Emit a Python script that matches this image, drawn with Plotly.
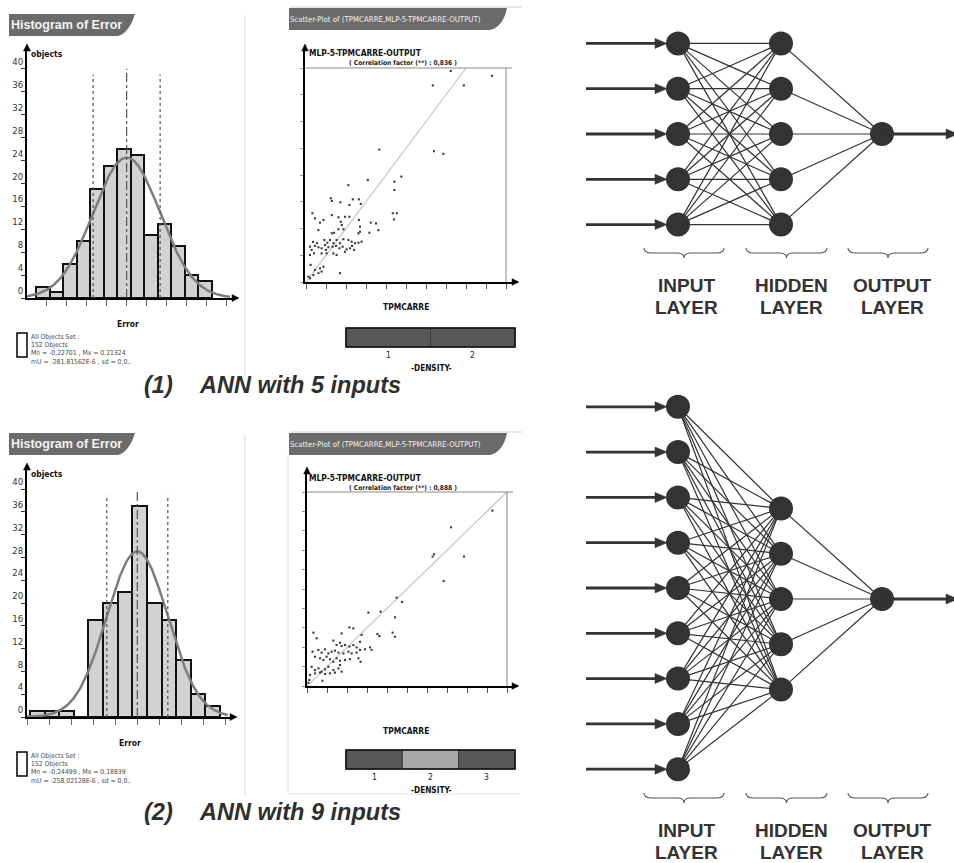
import numpy as np
import plotly.graph_objects as go

W, H = 954, 863

# ---------------- data ----------------
hist1_counts = [2, 1, 6, 10, 19, 23, 26, 25, 11, 13, 9, 4, 3]
hist1_min, hist1_max = -0.22701, 0.21324
hist1_mean, hist1_sd = -281.81562e-6, 0.0838
hist1_n = 152
hist1_mu_text = "-281,81562E-6"

hist2_counts = [1, 1, 1, 0, 17, 20, 22, 37, 20, 17, 10, 4, 2]
hist2_min, hist2_max = -0.24499, 0.18839
hist2_mean, hist2_sd = -258.02128e-6, 0.0696
hist2_n = 152
hist2_mu_text = "-258,02128E-6"

hist_yticks = [0, 4, 8, 12, 16, 20, 24, 28, 32, 36, 40]

scatter1_x = [7.24, 9.30, 6.34, 7.89, 3.67, 6.40, 6.87, 2.12, 3.09, 4.42, 4.77, 4.42, 2.34, 2.64, 1.24,
              1.29, 1.72, 2.17, 2.74, 0.32, 1.29, 4.34, 4.54, 4.40, 0.45, 0.70, 0.87, 1.62, 1.95, 2.17,
              1.74, 1.79, 1.87, 2.65, 2.70, 3.24, 3.50, 3.62, 3.17, 0.62, 1.29, 1.40, 1.62, 2.62, 2.70,
              0.92, 1.07, 1.20, 1.37, 1.53, 1.70, 1.87, 2.12, 2.28, 2.45, 2.62, 2.78,
              0.20, 0.28, 0.45, 0.62, 0.78, 0.95, 1.12, 1.33, 1.50, 1.67, 1.83, 2.03, 2.20, 2.40,
              0.20, 0.40, 0.78, 1.03, 1.37, 1.53, 1.95, 0.55, 0.35, 1.00, 2.30,
              0.23, 0.45, 0.70, 0.87, 0.78, 0.37, 0.62, 0.12, 0.20, 1.70]
scatter1_y = [7.89, 7.71, 7.35, 7.35, 4.95, 4.89, 4.79, 3.62, 3.81, 3.75, 3.94, 3.44, 3.09, 3.09, 3.13,
              3.03, 2.98, 2.88, 2.92, 2.57, 2.50, 2.57, 2.57, 2.34, 2.38, 2.22, 2.32, 2.42, 2.44, 2.44,
              2.25, 2.13, 1.97, 2.32, 2.07, 2.22, 2.19, 1.94, 1.84, 1.94, 1.82, 1.84, 1.97, 1.82, 1.88,
              1.57, 1.47, 1.57, 1.45, 1.57, 1.45, 1.60, 1.57, 1.51, 1.45, 1.47, 1.51,
              1.32, 1.20, 1.35, 1.30, 1.26, 1.38, 1.30, 1.32, 1.35, 1.26, 1.32, 1.22, 1.26, 1.20,
              1.01, 1.07, 1.07, 1.07, 1.07, 1.01, 1.13, 1.45, 1.50, 1.20, 1.35,
              0.64, 0.45, 0.51, 0.57, 0.39, 0.26, 0.33, 0.20, 0.14, 0.33]
scatter1_corr = "0,836"

scatter2_x = [9.27, 7.20, 6.35, 6.28, 7.85, 6.83, 4.48, 4.75, 3.07, 3.68, 4.40,
              2.12, 2.32, 1.73, 0.32, 0.48, 1.32, 2.73, 3.52, 3.62, 4.28, 4.40, 2.65,
              1.65, 1.48, 1.73, 1.90, 2.12, 2.32, 2.48, 3.15, 3.23, 2.90,
              0.28, 0.57, 0.73, 0.90, 1.07, 1.23, 1.40, 1.57, 1.82, 2.07, 2.23, 2.48, 2.65,
              2.57, 2.68,
              0.40, 0.65, 0.82, 0.98, 1.15, 1.32, 1.48, 1.65, 1.90, 2.15,
              0.23, 0.40, 0.57, 0.73, 0.90, 1.07, 1.32, 1.57, 1.65, 1.73,
              0.15, 0.40, 0.65, 0.90, 1.15, 1.40, 0.12, 0.77, 0.07]
scatter2_y = [9.04, 8.18, 6.79, 6.67, 6.67, 5.41, 4.55, 4.33, 3.78, 3.83, 3.54,
              3.02, 2.97, 2.71, 2.75, 2.46, 2.34, 2.63, 2.68, 2.58, 2.75, 2.54, 2.28,
              2.23, 2.11, 2.06, 2.11, 2.03, 2.11, 1.99, 1.99, 1.86, 1.89,
              1.77, 1.86, 1.72, 1.89, 1.68, 1.77, 1.82, 1.72, 1.68, 1.77, 1.68, 1.72, 1.86,
              1.43, 1.25,
              1.51, 1.43, 1.34, 1.51, 1.38, 1.25, 1.43, 1.30, 1.34, 1.38,
              0.99, 0.82, 0.91, 0.74, 0.86, 0.99, 0.82, 0.91, 1.08, 0.74,
              0.57, 0.65, 0.69, 0.62, 0.65, 0.69, 0.31, 0.27, 0.17]
scatter2_corr = "0,888"

density1_labels = ["1", "2"]
density1_shades = ["#585858", "#585858"]
density2_labels = ["1", "2", "3"]
density2_shades = ["#585858", "#a9a9a9", "#585858"]

net1_layers = [5, 5, 1]
net2_layers = [9, 5, 1]
layer_names = [("INPUT", "LAYER"), ("HIDDEN", "LAYER"), ("OUTPUT", "LAYER")]

captions = [("(1)", "ANN with 5 inputs"), ("(2)", "ANN with 9 inputs")]

# ---------------- helpers ----------------
NARROW = "Liberation Sans Narrow, Arial Narrow, DejaVu Sans Condensed, sans-serif"
ARIAL = "Liberation Sans, Arial, Helvetica, sans-serif"
DARK = "#333333"

def dx(a, b):
    return [a / W, b / W]

def dy(top, bottom):
    return [1 - bottom / H, 1 - top / H]

fig = go.Figure()
shapes = []
annotations = []

def txt(x, y, s, size, family=NARROW, color="#222", xanchor="left", yanchor="middle"):
    annotations.append(dict(x=x, y=y, xref="x", yref="y", text=s, showarrow=False,
                            xanchor=xanchor, yanchor=yanchor,
                            font=dict(size=size, family=family, color=color)))

def line(x0, y0, x1, y1, color, width, dash="solid", xref="x", yref="y", layer="above"):
    shapes.append(dict(type="line", x0=x0, y0=y0, x1=x1, y1=y1, xref=xref, yref=yref,
                       line=dict(color=color, width=width, dash=dash), layer=layer))

def path(d, fill, color, width=0):
    shapes.append(dict(type="path", path=d, xref="x", yref="y", fillcolor=fill,
                       line=dict(color=color, width=width), layer="above"))

def tri(tx, ty, direction, length=7, half=3.5, color="#000"):
    if direction == "up":
        d = f"M {tx},{ty} L {tx-half},{ty+length} L {tx+half},{ty+length} Z"
    else:
        d = f"M {tx},{ty} L {tx-length},{ty-half} L {tx-length},{ty+half} Z"
    path(d, color, color, 0.5)

# canvas axis (pixel coordinates)
fig.add_trace(go.Scatter(x=[0], y=[0], mode="markers", marker=dict(opacity=0),
                         hoverinfo="skip", xaxis="x", yaxis="y"))

# ---------------- histograms ----------------
def histogram(idx, counts, mn, mx, mean, sd, n, geom):
    left, bin0, binN, right, top, bottom, ppu_y = geom
    nb = len(counts)
    bw = (mx - mn) / nb
    edges = [mn + i * bw for i in range(nb + 1)]
    centers = [(edges[i] + edges[i + 1]) / 2 for i in range(nb)]
    scale = (binN - bin0) / (mx - mn)
    xr = [mn - (bin0 - left) / scale, mn + (right - bin0) / scale]
    yr = [0, (bottom - top) / ppu_y]
    xa, ya = f"x{idx}", f"y{idx}"
    fig.add_trace(go.Bar(x=centers, y=counts, width=bw, xaxis=xa, yaxis=ya,
                         marker=dict(color="#d2d2d2", line=dict(color="#111", width=2))))
    xs = np.linspace(xr[0], xr[1] - 0.01, 300)
    curve = n * bw / (sd * np.sqrt(2 * np.pi)) * np.exp(-0.5 * ((xs - mean) / sd) ** 2)
    fig.add_trace(go.Scatter(x=xs, y=curve, mode="lines", xaxis=xa, yaxis=ya,
                             line=dict(color="#7d7d7d", width=2.5), hoverinfo="skip"))
    for k, dash, top_v in [(-1, "dot", 39), (1, "dot", 39), (0, "dashdot", 40)]:
        line(mean + k * sd, 0, mean + k * sd, top_v, "#555", 1.2, dash, xref=xa, yref=ya)
    common = dict(showgrid=False, zeroline=False, showline=True, linecolor="#000", linewidth=2)
    fig.layout[f"xaxis{idx}"] = dict(domain=dx(left, right), range=xr, ticks="outside", ticklen=6,
                                     tickcolor="#666", tick0=0, dtick=0.05, showticklabels=False,
                                     anchor=ya, fixedrange=True, **common)
    fig.layout[f"yaxis{idx}"] = dict(domain=dy(top, bottom), range=yr, ticks="outside", ticklen=4,
                                     tickcolor="#333", tickvals=hist_yticks,
                                     ticktext=[str(v) for v in hist_yticks],
                                     ticklabelposition="outside top",
                                     tickfont=dict(size=9.5, family=NARROW, color="#333"),
                                     anchor=xa, fixedrange=True, **common)
    tri(left, top - 6, "up", 7, 3.5)
    tri(right + 5, bottom, "right", 7, 3.5)

def hist_decor(btop, objects_y, err_x, err_y, leg_top, mn, mx, n, mu_text):
    path(f"M 9,{btop} L 135,{btop} Q 129,{btop+19} 118,{btop+22} L 9,{btop+22} Z", "#6b6b6b", "#6b6b6b")
    txt(9, btop + 11, "<b>Histogram of Error</b>", 12.5, ARIAL, "#f2f2f2")
    txt(29, objects_y, "<b>objects</b>", 8.5, NARROW, "#111")
    txt(err_x, err_y, "<b>Error</b>", 8.5, NARROW, "#111", xanchor="center")
    shapes.append(dict(type="rect", x0=17, x1=27, y0=leg_top, y1=leg_top + 24, xref="x", yref="y",
                       line=dict(color="#000", width=1.5), fillcolor="white", layer="above"))
    lines_ = ["All Objects Set :", f"{n} Objects",
              f"Mn = {mn:.5f}".replace(".", ",") + " , " + f"Mx = {mx:.5f}".replace(".", ","),
              f"mU = {mu_text} , sd = 0,0.."]
    for i, s in enumerate(lines_):
        txt(29, leg_top + 4 + i * 8.2, s, 6.8, NARROW, "#4a4a4a")

histogram(2, hist1_counts, hist1_min, hist1_max, hist1_mean, hist1_sd, hist1_n,
          (27, 36, 212, 234, 50, 298, 5.73))
hist_decor(14, 54, 128, 324, 333, hist1_min, hist1_max, hist1_n, hist1_mu_text)
histogram(4, hist2_counts, hist2_min, hist2_max, hist2_mean, hist2_sd, hist2_n,
          (27, 30, 220, 232, 469, 717, 5.70))
hist_decor(433, 474, 130, 743, 752, hist2_min, hist2_max, hist2_n, hist2_mu_text)

# ---------------- scatter plots ----------------
def scatter(idx, xs, ys, geom, box_xy):
    left, x0px, right, top, bottom, ppu_x, ppu_y = geom
    xa, ya = f"x{idx}", f"y{idx}"
    xr = [(left - x0px) / ppu_x, (right - x0px) / ppu_x]
    yr = [0, (bottom - top) / ppu_y]
    bx, by = box_xy
    fig.add_trace(go.Scatter(x=[0, min(bx, by)], y=[0, min(bx, by)], mode="lines", xaxis=xa, yaxis=ya,
                             line=dict(color="#c4c4c4", width=1.2), hoverinfo="skip"))
    fig.add_trace(go.Scatter(x=xs, y=ys, mode="markers", xaxis=xa, yaxis=ya,
                             marker=dict(symbol="square", size=2.1, color="#3a3a3a"), hoverinfo="skip"))
    line(0, by, bx + 0.3, by, "#8a8a8a", 1, xref=xa, yref=ya)
    line(bx, 0, bx, by, "#8a8a8a", 1, xref=xa, yref=ya)
    common = dict(showgrid=False, zeroline=False, showline=True, linecolor="#000", fixedrange=True,
                  showticklabels=False)
    fig.layout[f"xaxis{idx}"] = dict(domain=dx(left, right), range=xr, ticks="outside", ticklen=5,
                                     tickcolor="#555", tickvals=list(range(0, int(bx) + 1)),
                                     linewidth=2.2, anchor=ya, **common)
    fig.layout[f"yaxis{idx}"] = dict(domain=dy(top, bottom), range=yr, ticks="outside", ticklen=3,
                                     tickcolor="#999", tickvals=list(range(0, int(by) + 1)),
                                     linewidth=2, anchor=xa, **common)
    tri(left, top - 6, "up", 7, 3.3)
    tri(right + 5, bottom, "right", 7, 3.3)

def scatter_decor(btop, title_y, corr, corr_y, tp_y, dens_top, labels, shades):
    line(290, btop - 1, 522, btop - 1, "#cfcfcf", 1)
    path(f"M 289,{btop} L 507,{btop} Q 503,{btop+19} 490,{btop+22} L 289,{btop+22} Z", "#6b6b6b", "#6b6b6b")
    txt(288, btop + 11, "Scatter-Plot of (TPMCARRE,MLP-5-TPMCARRE-OUTPUT)", 7.8, NARROW, "#f2f2f2")
    txt(307, title_y, "<b>MLP-5-TPMCARRE-OUTPUT</b>", 8.4, NARROW, "#111")
    txt(403, corr_y, f"<b>( Correlation factor (**) : {corr} )</b>", 6.6, NARROW, "#222", xanchor="center")
    txt(406, tp_y, "<b>TPMCARRE</b>", 8.4, NARROW, "#111", xanchor="center")
    x0, x1 = 346, 515
    segw = (x1 - x0) / len(labels)
    for i, (lab, sh) in enumerate(zip(labels, shades)):
        shapes.append(dict(type="rect", x0=x0 + i * segw, x1=x0 + (i + 1) * segw, y0=dens_top,
                           y1=dens_top + 19, xref="x", yref="y", fillcolor=sh,
                           line=dict(color="#3a3a3a", width=1), layer="above"))
        txt(x0 + (i + 0.5) * segw, dens_top + 27, lab, 8.5, NARROW, "#222", xanchor="center")
    shapes.append(dict(type="rect", x0=x0, x1=x1, y0=dens_top, y1=dens_top + 19, xref="x", yref="y",
                       line=dict(color="#111", width=1.6), layer="above"))
    txt(431, dens_top + 40, "<b>-DENSITY-</b>", 8.2, NARROW, "#111", xanchor="center")

scatter(3, scatter1_x, scatter1_y, (305, 306, 514, 50, 282, 20, 26.75), (10, 8))
scatter_decor(8, 53, scatter1_corr, 63, 307, 328, density1_labels, density1_shades)
scatter(5, scatter2_x, scatter2_y, (307, 307, 514, 473, 686, 20, 19.4), (10, 10))
scatter_decor(433, 478, scatter2_corr, 488, 731, 750, density2_labels, density2_shades)

# separators
line(245, 15, 245, 376, "#dcdcdc", 1)
line(245, 435, 245, 795, "#dcdcdc", 1)
line(288, 455, 288, 794, "#e2e2e2", 1)
line(288, 794, 520, 794, "#e2e2e2", 1)

# captions
for (num, cap), cy in zip(captions, [385, 812]):
    txt(142, cy, f"<b><i>{num}</i></b>", 23.5, ARIAL, "#2e2e2e")
    txt(197, cy, f"<b><i>{cap}</i></b>", 23.5, ARIAL, "#2e2e2e")

# ---------------- network diagrams ----------------
COLS = [678, 781, 882]
SPACING = 45.3

def network(layers, centers, brace_y, label_y):
    pos = []
    for n, cx, cy in zip(layers, COLS, centers):
        pos.append([(cx, cy + (i - (n - 1) / 2) * SPACING) for i in range(n)])
    ex, ey = [], []
    for a, b in zip(pos[:-1], pos[1:]):
        for (x0, y0) in a:
            for (x1, y1) in b:
                ex += [x0, x1, None]
                ey += [y0, y1, None]
    fig.add_trace(go.Scatter(x=ex, y=ey, mode="lines", xaxis="x", yaxis="y",
                             line=dict(color=DARK, width=1.2), hoverinfo="skip"))
    for (x, y) in pos[0]:
        line(586, y, x - 20, y, DARK, 2.8)
        tri(x - 11, y, "right", 12, 5, DARK)
    ox, oy = pos[-1][0]
    line(ox, oy, 948, oy, DARK, 2.8)
    tri(958, oy, "right", 12, 5, DARK)
    allx = [p[0] for layer in pos for p in layer]
    ally = [p[1] for layer in pos for p in layer]
    fig.add_trace(go.Scatter(x=allx, y=ally, mode="markers", xaxis="x", yaxis="y",
                             marker=dict(size=24, color=DARK, line=dict(width=0)), hoverinfo="skip"))
    for (b0, b1), (l1, l2), lx in zip([(644, 724), (746, 827), (848, 928)], layer_names,
                                      [686.5, 791.5, 892.5]):
        m, d = (b0 + b1) / 2, 5
        dd = (f"M {b0},{brace_y} Q {b0},{brace_y+d} {b0+8},{brace_y+d} L {m-7},{brace_y+d} "
              f"Q {m},{brace_y+d} {m},{brace_y+2*d} Q {m},{brace_y+d} {m+7},{brace_y+d} "
              f"L {b1-8},{brace_y+d} Q {b1},{brace_y+d} {b1},{brace_y}")
        shapes.append(dict(type="path", path=dd, xref="x", yref="y",
                           line=dict(color="#555", width=1.1), layer="above"))
        txt(lx, label_y, f"<b>{l1}</b>", 19, ARIAL, "#333", xanchor="center")
        txt(lx, label_y + 22, f"<b>{l2}</b>", 19, ARIAL, "#333", xanchor="center")

network(net1_layers, [134, 134, 134], 248, 285)
network(net2_layers, [588, 599, 599], 793, 830)

fig.update_layout(
    width=W, height=H, margin=dict(l=0, r=0, t=0, b=0),
    paper_bgcolor="white", plot_bgcolor="rgba(0,0,0,0)", showlegend=False, bargap=0,
    xaxis=dict(domain=[0, 1], range=[0, W], visible=False, fixedrange=True),
    yaxis=dict(domain=[0, 1], range=[H, 0], visible=False, fixedrange=True),
    shapes=shapes, annotations=annotations,
)
fig.write_html("out.html")
